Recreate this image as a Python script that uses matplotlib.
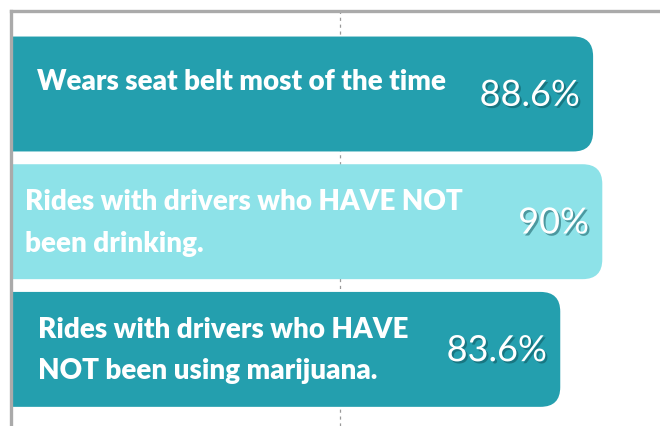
import matplotlib
matplotlib.use("Agg")
from matplotlib import pyplot as plt
from matplotlib.patches import FancyBboxPatch
import matplotlib.patheffects as pe

labels = [
    "Wears seat belt most of the time",
    "Rides with drivers who HAVE NOT\nbeen drinking.",
    "Rides with drivers who HAVE\nNOT been using marijuana.",
]
values = [88.6, 90.0, 83.6]
pct_labels = ["88.6%", "90%", "83.6%"]
colors = ["#249fae", "#8de2e8", "#249fae"]

W, H = 660, 427
fig = plt.figure(figsize=(W / 100, H / 100), dpi=100)
# axes: left spine at x~11px, top spine at y~12px, 100% lands just past the right edge
ax = fig.add_axes([11 / W, 0, 657 / W, 415 / H])
ax.set_xlim(0, 100)
ax.set_ylim(2.6, -0.65)

bars = ax.barh(range(len(values)), values, height=0.9, color=colors)

# swap the plain bars for rounded ones
px_x = 657 / 100
px_y = 415 / 3.25
for b in bars:
    x0, y0 = b.get_x(), b.get_y()
    w, h = b.get_width(), b.get_height()
    fb = FancyBboxPatch((x0 - 5, y0), w + 5, h,
                        boxstyle="round,pad=0,rounding_size=3",
                        mutation_aspect=px_x / px_y,
                        facecolor=b.get_facecolor(), edgecolor="none",
                        clip_on=True, zorder=2)
    b.remove()
    ax.add_patch(fb)

ax.axvline(50, color="#999999", lw=0.9, ls=(0, (2.5, 3)), zorder=1)

label_x = [4, 2.2, 4.1]
for i, (lab, v, p) in enumerate(zip(labels, values, pct_labels)):
    dy = -0.1 if i == 0 else 0.0
    ax.text(label_x[i], i + dy, lab, color="white", fontsize=20, fontweight="heavy",
            family="Lato", ha="left", va="center", linespacing=1.75, zorder=4)
    ax.text(v - 2, i + 0.01, p, color="white", fontsize=26, family="Lato",
            ha="right", va="center", zorder=4,
            path_effects=[pe.withSimplePatchShadow(offset=(1.5, -1.5),
                                                   shadow_rgbFace="#0d4f57", alpha=0.5)])

for s in ["right", "bottom"]:
    ax.spines[s].set_visible(False)
for s in ["top", "left"]:
    ax.spines[s].set_color("#aaaaaa")
    ax.spines[s].set_linewidth(2.4)
ax.set_xticks([])
ax.set_yticks([])

fig.savefig("out.png", dpi=100)
